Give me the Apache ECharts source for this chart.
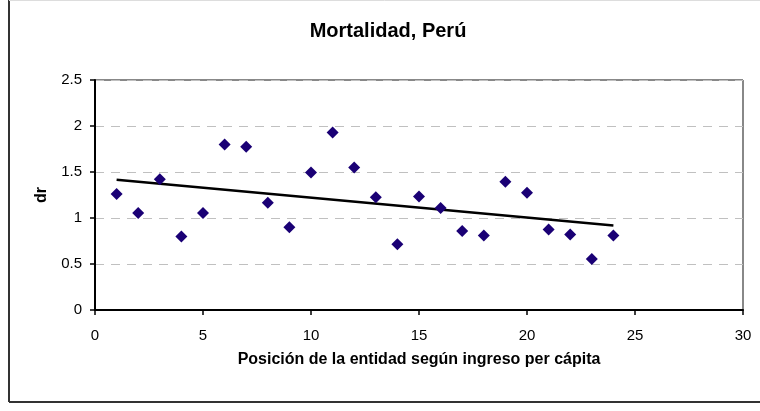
<!DOCTYPE html>
<html>
<head>
<meta charset="utf-8">
<script src="https://cdn.jsdelivr.net/npm/echarts@6/dist/echarts.min.js"></script>
<style>html,body{margin:0;padding:0;background:#fff}#c{width:760px;height:411px}</style>
</head>
<body>
<div id="c"></div>
<script>
const positions = [1,2,3,4,5,6,7,8,9,10,11,12,13,14,15,16,17,18,19,20,21,22,23,24];
const drValues = [1.26,1.055,1.42,0.80,1.055,1.80,1.775,1.165,0.90,1.495,1.93,1.55,1.225,0.715,1.235,1.11,0.86,0.81,1.395,1.275,0.875,0.82,0.555,0.81];
const trendX = [1, 24];
const trendY = [1.415, 0.918];
const xTicks = [0,5,10,15,20,25,30];
const yTicks = [0,0.5,1,1.5,2,2.5];

const chart = echarts.init(document.getElementById('c'), null, {renderer:'canvas'});
const font = 'Liberation Sans, Arial, sans-serif';
chart.setOption({
  animation:false,
  backgroundColor:'#fff',
  title:{text:'Mortalidad, Perú',left:383,textAlign:'center',top:16,
    textStyle:{fontFamily:'Liberation Sans Narrow, Arial Narrow, Liberation Sans, sans-serif',fontSize:20,fontWeight:'bold',color:'#000'}},
  graphic:[
    {type:'line',shape:{x1:9,y1:0,x2:9,y2:402},style:{stroke:'#333',lineWidth:2}},
    {type:'line',shape:{x1:9,y1:402,x2:760,y2:402},style:{stroke:'#333',lineWidth:2}},
    {type:'line',shape:{x1:9,y1:0.5,x2:760,y2:0.5},style:{stroke:'#ddd',lineWidth:1}},
    {type:'line',shape:{x1:95,y1:80,x2:743,y2:80},style:{stroke:'#888',lineWidth:2}},
    {type:'line',shape:{x1:743,y1:80,x2:743,y2:310},style:{stroke:'#888',lineWidth:2}}
  ],
  grid:{left:95,right:17,top:80,bottom:101},
  xAxis:{type:'value',min:xTicks[0],max:xTicks[xTicks.length-1],interval:5,
    name:'Posición de la entidad según ingreso per cápita',nameLocation:'middle',nameGap:42,
    nameTextStyle:{fontFamily:font,fontSize:16,fontWeight:'bold',color:'#000'},
    axisLine:{lineStyle:{color:'#000',width:2}},
    axisTick:{show:true,length:5,lineStyle:{color:'#000',width:1.5}},
    axisLabel:{fontFamily:font,fontSize:15,color:'#000',margin:18},
    splitLine:{show:false}},
  yAxis:{type:'value',min:yTicks[0],max:yTicks[yTicks.length-1],interval:0.5,
    name:'dr',nameLocation:'middle',nameGap:45,nameRotate:90,
    nameTextStyle:{fontFamily:font,fontSize:16,fontWeight:'bold',color:'#000'},
    axisLine:{show:true,lineStyle:{color:'#000',width:2}},
    axisTick:{show:true,length:5,lineStyle:{color:'#000',width:1.5}},
    axisLabel:{fontFamily:font,fontSize:15,color:'#000',margin:13},
    splitLine:{show:true,lineStyle:{color:'#c0c0c0',type:[9,7],width:1}}},
  series:[
    {type:'line',data:trendX.map((x,i)=>[x,trendY[i]]),symbol:'none',
      lineStyle:{color:'#000',width:2.5},z:3},
    {type:'scatter',data:positions.map((x,i)=>[x,drValues[i]]),symbol:'diamond',symbolSize:12,
      itemStyle:{color:'#1a0075',opacity:1},z:4}
  ]
});
</script>
</body>
</html>
